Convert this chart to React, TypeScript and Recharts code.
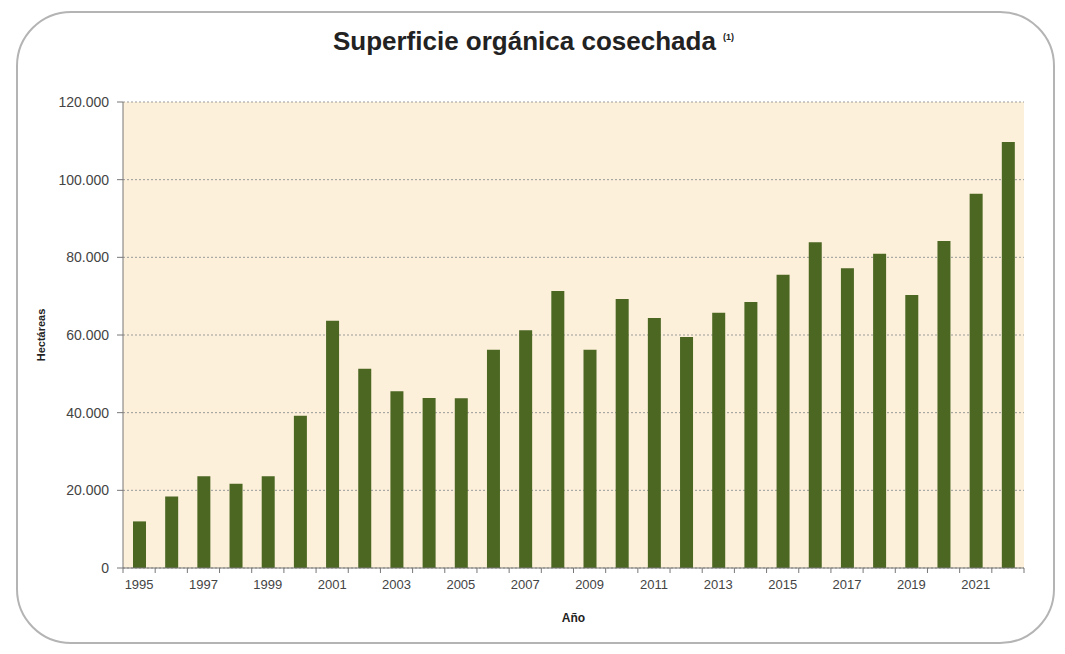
import React from 'react';
import { BarChart, Bar, XAxis, YAxis, CartesianGrid } from 'recharts';

const years = [
  '1995', '1996', '1997', '1998', '1999', '2000', '2001', '2002', '2003', '2004',
  '2005', '2006', '2007', '2008', '2009', '2010', '2011', '2012', '2013', '2014',
  '2015', '2016', '2017', '2018', '2019', '2020', '2021', '2022',
];
const hectareas = [
  12000, 18400, 23600, 21700, 23600, 39200, 63700, 51300, 45500, 43800,
  43700, 56200, 61200, 71300, 56200, 69300, 64400, 59500, 65700, 68500,
  75500, 83900, 77200, 80900, 70300, 84200, 96400, 109700,
];
const yTicks = [0, 20000, 40000, 60000, 80000, 100000, 120000];

const data = years.map((year, i) => ({ year, value: hectareas[i] }));

const W = 1065;
const H = 654;
const margin = { top: 102, right: 41, left: 63, bottom: 56 };
const yAxisW = 60;
const band = (W - margin.left - margin.right - yAxisW) / years.length;
const font = '"Liberation Sans", Arial, sans-serif';

const fmt = (n: number) => (n === 0 ? '0' : `${n / 1000}.000`);

function YearTick(props: any) {
  const { x, y, payload, index } = props;
  const showLabel = Number(payload.value) % 2 === 1;
  return (
    <g>
      <line x1={x - band / 2} x2={x - band / 2} y1={y} y2={y + 5} stroke="#777" />
      {index === years.length - 1 && (
        <line x1={x + band / 2} x2={x + band / 2} y1={y} y2={y + 5} stroke="#777" />
      )}
      {showLabel && (
        <text x={x} y={y + 21} textAnchor="middle" fill="#444" fontSize={13} fontFamily={font}>
          {payload.value}
        </text>
      )}
    </g>
  );
}

export default function App() {
  return (
    <div style={{ position: 'absolute', left: 0, top: 0, width: W, height: H, background: '#fff' }}>
      <div
        style={{
          position: 'absolute', left: 16, top: 11, width: 1039, height: 633,
          border: '2px solid #b4b4b4', borderRadius: 55, boxSizing: 'border-box',
        }}
      />
      <div
        style={{
          position: 'absolute', left: 1, top: 26, width: W, textAlign: 'center',
          fontFamily: font, fontWeight: 'bold', fontSize: 26, color: '#222',
        }}
      >
        Superficie orgánica cosechada{' '}
        <span style={{ fontSize: 9, verticalAlign: 'super' }}>(1)</span>
      </div>
      <div style={{ position: 'absolute', left: 0, top: 0 }}>
        <BarChart width={W} height={H} data={data} margin={margin}>
          <CartesianGrid
            vertical={false}
            horizontalValues={yTicks}
            stroke="#9a9a9a"
            strokeDasharray="2 2"
            fill="#fcf0da"
            yAxisId="left"
          />
          <XAxis
            dataKey="year"
            interval={0}
            tickLine={false}
            tickSize={0}
            tickMargin={0}
            axisLine={{ stroke: '#777' }}
            tick={<YearTick />}
            height={30}
            label={{
              value: 'Año', position: 'insideBottom', offset: -24,
              style: { fontFamily: font, fontWeight: 'bold', fontSize: 12, fill: '#222' },
            }}
          />
          <XAxis xAxisId="top" orientation="top" dataKey="year" tick={false} tickLine={false} height={0} axisLine={{ stroke: '#aaa' }} />
          <YAxis
            yAxisId="left"
            domain={[0, 120000]}
            ticks={yTicks}
            tickFormatter={fmt}
            width={yAxisW}
            tickSize={6}
            tickMargin={8}
            axisLine={{ stroke: '#777' }}
            tickLine={{ stroke: '#777' }}
            tick={{ fill: '#444', fontSize: 14, fontFamily: font }}
            label={{
              value: 'Hectáreas', angle: -90, position: 'insideLeft', offset: -22,
              style: { fontFamily: font, fontWeight: 'bold', fontSize: 11, fill: '#222', textAnchor: 'middle' },
            }}
          />
          <YAxis yAxisId="right" orientation="right" domain={[0, 120000]} tick={false} tickLine={false} width={0} axisLine={{ stroke: '#aaa' }} />
          <Bar dataKey="value" yAxisId="left" fill="#4b6722" barSize={13} isAnimationActive={false} />
        </BarChart>
      </div>
    </div>
  );
}
